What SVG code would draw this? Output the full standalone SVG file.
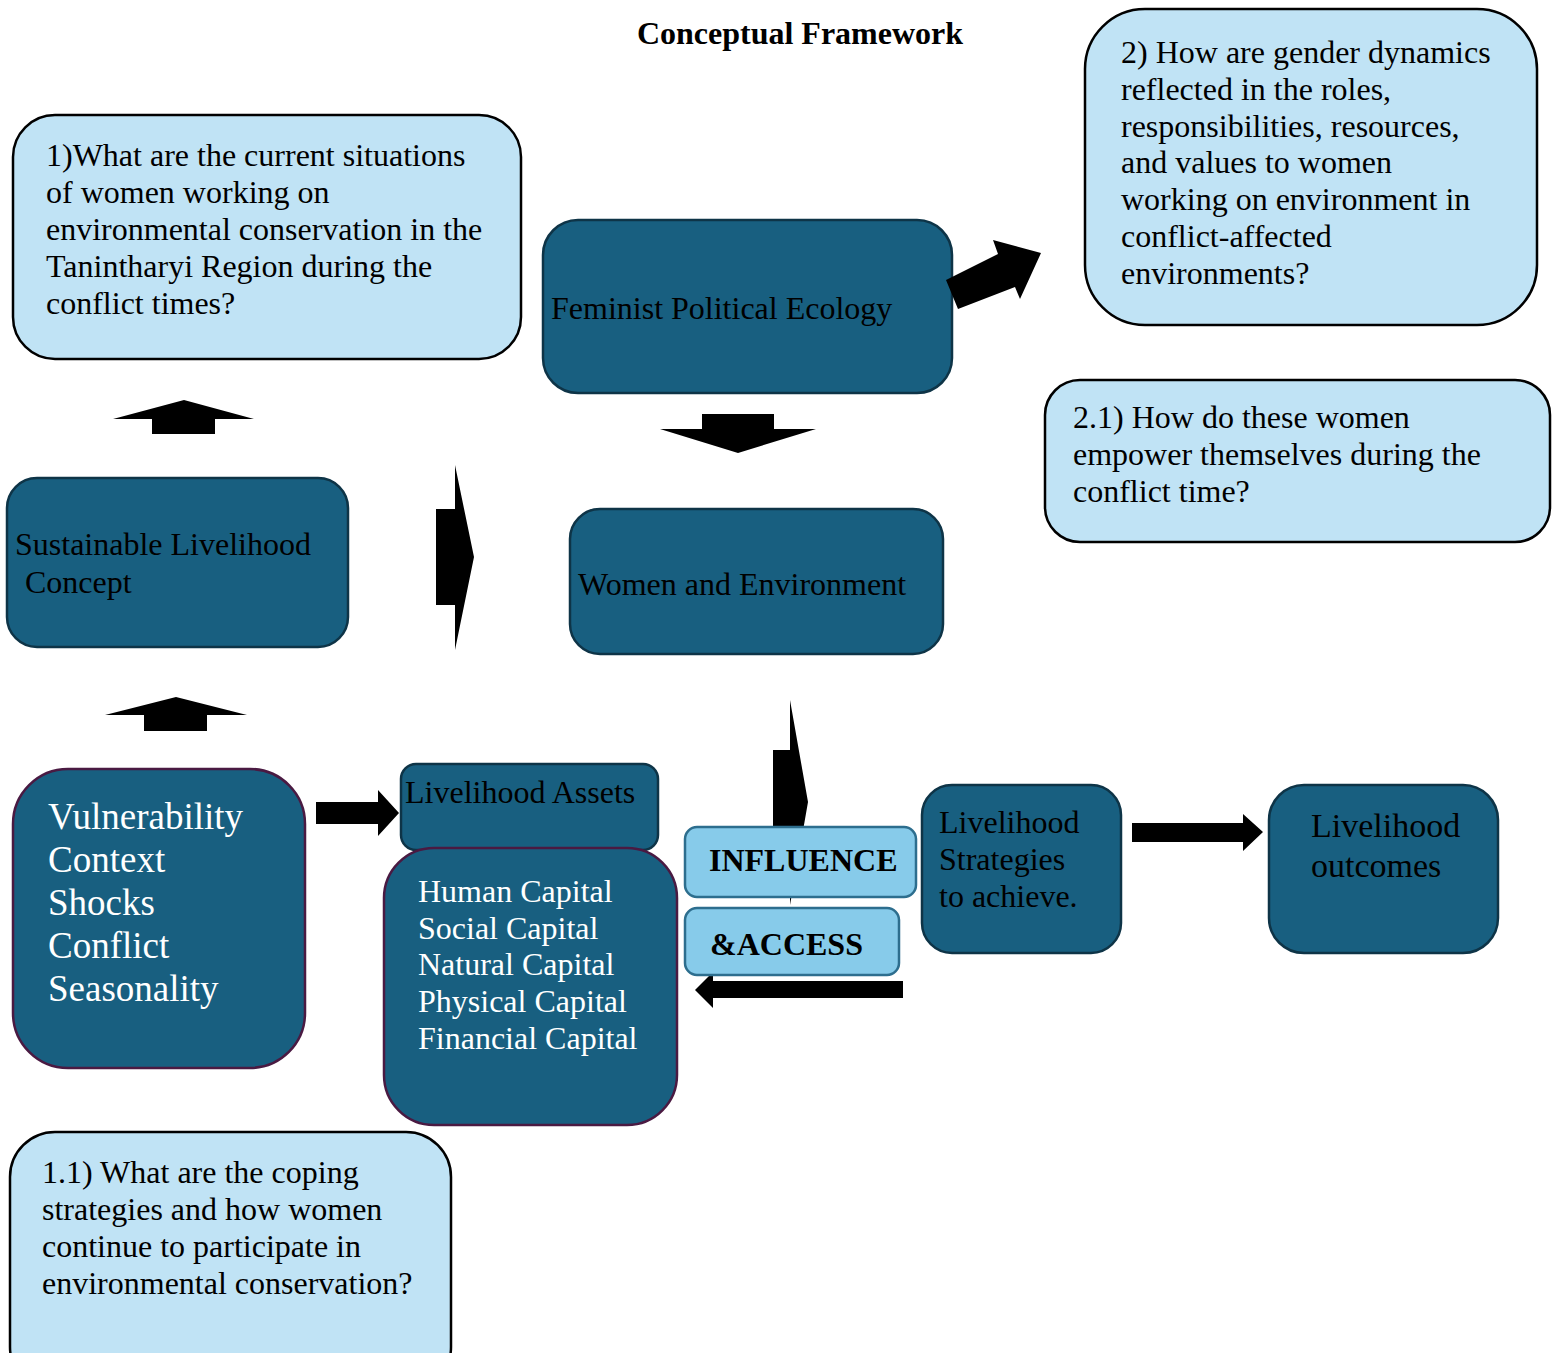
<svg xmlns="http://www.w3.org/2000/svg" width="1559" height="1353" viewBox="0 0 1559 1353">
<style>
text{font-family:"Liberation Serif","Times New Roman",serif;font-size:32px;fill:#000}
.q{fill:#C0E3F5;stroke:#000;stroke-width:2.5}
.d{fill:#185F80;stroke:#0E3447;stroke-width:2.5}
.p{fill:#185F80;stroke:#4A1A42;stroke-width:2.5}
.i{fill:#87CBEA;stroke:#2D6E8E;stroke-width:2.5}
.w{fill:#fff}
.b{font-weight:bold}
.ar{fill:#000}
</style>
<rect width="1559" height="1353" fill="#fff"/>
<text class="b" x="800" y="44" text-anchor="middle">Conceptual Framework</text>

<g id="q1">
<rect class="q" x="13" y="115" width="508" height="244" rx="42"/>
<text x="46" y="166">1)What are the current situations</text>
<text x="46" y="203">of women working on</text>
<text x="46" y="240">environmental conservation in the</text>
<text x="46" y="277">Tanintharyi Region during the</text>
<text x="46" y="314">conflict times?</text>
</g>

<g id="q2">
<rect class="q" x="1085" y="9" width="452" height="316" rx="60"/>
<text x="1121" y="63">2) How are gender dynamics</text>
<text x="1121" y="100">reflected in the roles,</text>
<text x="1121" y="137">responsibilities, resources,</text>
<text x="1121" y="173">and values to women</text>
<text x="1121" y="210">working on environment in</text>
<text x="1121" y="247">conflict-affected</text>
<text x="1121" y="284">environments?</text>
</g>

<g id="q21">
<rect class="q" x="1045" y="380" width="505" height="162" rx="35"/>
<text x="1073" y="428">2.1) How do these women</text>
<text x="1073" y="465">empower themselves during the</text>
<text x="1073" y="502">conflict time?</text>
</g>

<g id="q11">
<rect class="q" x="10" y="1132" width="441" height="260" rx="45"/>
<text x="42" y="1183">1.1) What are the coping</text>
<text x="42" y="1220">strategies and how women</text>
<text x="42" y="1257">continue to participate in</text>
<text x="42" y="1294">environmental conservation?</text>
</g>

<g id="fpe">
<rect class="d" x="543" y="220" width="409" height="173" rx="35"/>
<text x="551" y="319">Feminist Political Ecology</text>
</g>

<g id="women">
<rect class="d" x="570" y="509" width="373" height="145" rx="30"/>
<text x="578" y="595">Women and Environment</text>
</g>

<g id="slc">
<rect class="d" x="7" y="478" width="341" height="169" rx="30"/>
<text x="15" y="555">Sustainable Livelihood</text>
<text x="25" y="593">Concept</text>
</g>

<g id="vuln">
<rect class="p" x="13" y="769" width="292" height="299" rx="55"/>
<text class="w" x="48" y="829" font-size="37" style="font-size:37px">Vulnerability</text>
<text class="w" x="48" y="872" style="font-size:37px">Context</text>
<text class="w" x="48" y="915" style="font-size:37px">Shocks</text>
<text class="w" x="48" y="958" style="font-size:37px">Conflict</text>
<text class="w" x="48" y="1001" style="font-size:37px">Seasonality</text>
</g>

<g id="assets">
<rect class="d" x="401" y="764" width="257" height="86" rx="15"/>
<text x="405" y="803">Livelihood Assets</text>
</g>

<g id="capitals">
<rect class="p" x="384" y="848" width="293" height="277" rx="50"/>
<text class="w" x="418" y="902">Human Capital</text>
<text class="w" x="418" y="939">Social Capital</text>
<text class="w" x="418" y="975">Natural Capital</text>
<text class="w" x="418" y="1012">Physical Capital</text>
<text class="w" x="418" y="1049">Financial Capital</text>
</g>

<g id="strategies">
<rect class="d" x="922" y="785" width="199" height="168" rx="30"/>
<text x="939" y="833">Livelihood</text>
<text x="939" y="870">Strategies</text>
<text x="939" y="907">to achieve.</text>
</g>

<g id="outcomes">
<rect class="d" x="1269" y="785" width="229" height="168" rx="35"/>
<text x="1311" y="837" style="font-size:34px">Livelihood</text>
<text x="1311" y="877" style="font-size:34px">outcomes</text>
</g>

<g id="connectors">
<polygon class="ar" points="152,434 152,419 113,419 184,400 254,419 215,419 215,434"/>
<polygon class="ar" points="144,731 144,715 105,715 176,697 247,715 207,715 207,731"/>
<polygon class="ar" points="436,509 455,509 455,465 474,557 455,650 455,605 436,605"/>
<polygon class="ar" points="702,414 774,414 774,429 816,429 738,453 660,429 702,429"/>
<polygon class="ar" points="946,280 998,254 993,240 1041,253 1020,299 1015,287 958,309"/>
<polygon class="ar" points="773,750 790,750 790,700 808,802 790,905 790,855 773,855"/>
<polygon class="ar" points="316,802 378,802 378,790 399,813 378,836 378,824 316,824"/>
<polygon class="ar" points="903,981 713,981 713,972 695,990 713,1008 713,998 903,998"/>
<polygon class="ar" points="1132,823 1243,823 1243,814 1263,832 1243,851 1243,842 1132,842"/>
</g>

<g id="influence">
<rect class="i" x="685" y="827" width="231" height="70" rx="12"/>
<text class="b" x="709" y="871">INFLUENCE</text>
</g>
<g id="access">
<rect class="i" x="685" y="908" width="214" height="67" rx="12"/>
<text class="b" x="710" y="955">&amp;ACCESS</text>
</g>
</svg>
